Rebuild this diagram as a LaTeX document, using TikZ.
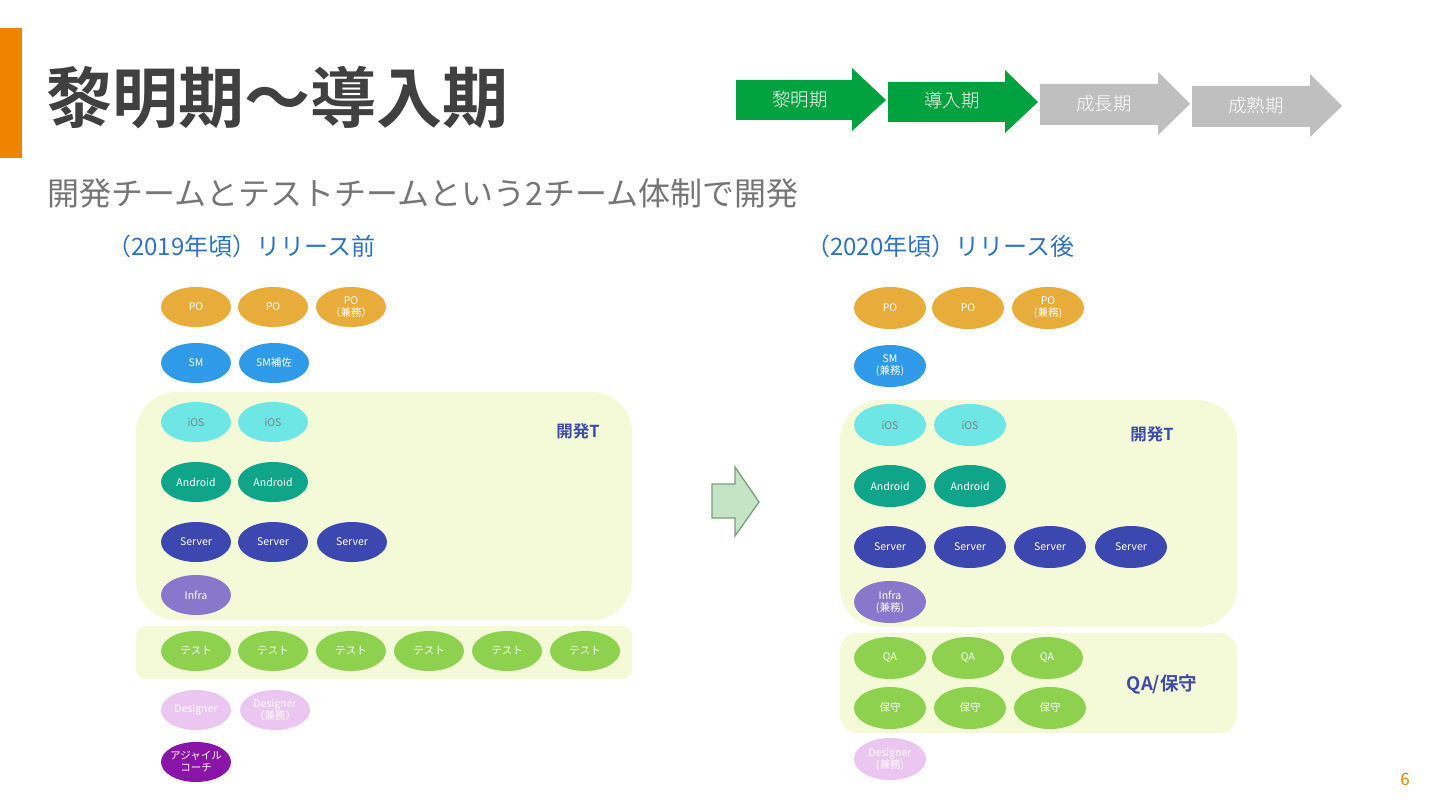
\documentclass[tikz,border=0pt]{standalone}
\usepackage{fontspec}
\setmainfont{Noto Sans CJK JP}
\newfontfamily\jpb{Noto Sans CJK JP Bold}
\newfontfamily\jpl{Noto Sans CJK JP Light}
\usetikzlibrary{shapes.geometric}
\definecolor{orangebar}{HTML}{F08300}
\definecolor{titlegray}{HTML}{404040}
\definecolor{subgray}{HTML}{767676}
\definecolor{headblue}{HTML}{2F73C0}
\definecolor{phgreen}{HTML}{00A23F}
\definecolor{phgray}{HTML}{BFBFBF}
\definecolor{boxbg}{HTML}{F4F9D8}
\definecolor{cpo}{HTML}{E8AC3A}
\definecolor{csm}{HTML}{2E9AE8}
\definecolor{cios}{HTML}{6EE6E6}
\definecolor{cand}{HTML}{0FA58A}
\definecolor{cser}{HTML}{3D47B0}
\definecolor{cinf}{HTML}{8878CC}
\definecolor{ctest}{HTML}{8DD14F}
\definecolor{cdes}{HTML}{EBC6F0}
\definecolor{cac}{HTML}{8B14A8}
\definecolor{labblue}{HTML}{3E4BA8}
\definecolor{arrfill}{HTML}{C5E3C5}
\definecolor{arrdraw}{HTML}{7E9E7E}
\begin{document}
\begin{tikzpicture}[x=1pt,y=-1pt,
  mem/.style={ellipse,minimum width=70pt,minimum height=40pt,inner sep=0pt,text=white,
    font=\fontsize{10.5}{12}\selectfont,align=center},
  memr/.style={mem,minimum width=72pt,minimum height=42pt},
  po/.style={fill=cpo},
  sm/.style={fill=csm},
  ios/.style={fill=cios,text=gray},
  and/.style={fill=cand},
  ser/.style={fill=cser},
  inf/.style={fill=cinf},
  tst/.style={fill=ctest},
  des/.style={fill=cdes},
  ac/.style={fill=cac,inner sep=-3pt},
  teamlab/.style={text=labblue,font=\jpb\fontsize{16.5}{18}\selectfont},
  phase/.style={text=white,font=\jpl\fontsize{18.5}{20}\selectfont}
]
\useasboundingbox (0,0) rectangle (1440,810);
\fill[white] (0,0) rectangle (1440,810);
% orange bar
\fill[orangebar] (0,28) rectangle (22,158);
\node[anchor=west,text=titlegray,font=\jpb\fontsize{66}{68}\selectfont,inner sep=0pt] (title) at (46,98) {黎明期〜導入期};
% phase arrows
\fill[phgreen] (736,80) -- (852,80) -- (852,68) -- (886,100) -- (852,131) -- (852,120) -- (736,120) -- cycle;
\node[phase] (p1) at (800,99) {黎明期};
\fill[phgreen] (888,82) -- (1005,82) -- (1005,70) -- (1038,102) -- (1005,133) -- (1005,122) -- (888,122) -- cycle;
\node[phase] (p2) at (952,101) {導入期};
\fill[phgray] (1040,84) -- (1158,84) -- (1158,72) -- (1190,104) -- (1158,135) -- (1158,125) -- (1040,125) -- cycle;
\node[phase] (p3) at (1104,104) {成長期};
\fill[phgray] (1192,86) -- (1310,86) -- (1310,74) -- (1342,106) -- (1310,137) -- (1310,127) -- (1192,127) -- cycle;
\node[phase] (p4) at (1256,106) {成熟期};
% subtitle
\node[anchor=west,text=subgray,font=\fontsize{32}{34}\selectfont,inner sep=0pt] (sub) at (47,193) {開発チームとテストチームという2チーム体制で開発};
\node[anchor=west,text=headblue,font=\fontsize{24}{26}\selectfont,inner sep=0pt] (h1) at (107,246) {（2019年頃）リリース前};
\node[anchor=west,text=headblue,font=\fontsize{24}{26}\selectfont,inner sep=0pt] (h2) at (806,246) {（2020年頃）リリース後};
% ===== left =====
\path[fill=boxbg,rounded corners=40pt] (136,392) rectangle (632,620);
\path[fill=boxbg,rounded corners=10pt] (136,626) rectangle (632,679);
\node[mem,po] (lpo1) at (196,307) {PO};
\node[mem,po] (lpo2) at (273,307) {PO};
\node[mem,po] (lpo3) at (351,307) {PO\\（兼務）};
\node[mem,sm] (lsm1) at (196,363) {SM};
\node[mem,sm] (lsm2) at (274,363) {SM補佐};
\node[mem,ios] (lios1) at (196,422) {iOS};
\node[mem,ios] (lios2) at (273,422) {iOS};
\node[mem,and] (land1) at (196,482) {Android};
\node[mem,and] (land2) at (273,482) {Android};
\node[mem,ser] (lser1) at (196,542) {Server};
\node[mem,ser] (lser2) at (273,542) {Server};
\node[mem,ser] (lser3) at (352,542) {Server};
\node[mem,inf] (linf) at (196,595) {Infra};
\node[teamlab] (ldev) at (578,431) {開発T};
\foreach \i/\x in {1/196,2/273,3/351,4/429,5/507,6/585}
  \node[mem,tst] (ltst\i) at (\x,651) {テスト};
\node[mem,des] (ldes1) at (196,710) {Designer};
\node[mem,des] (ldes2) at (275,710) {Designer\\（兼務）};
\node[mem,ac] (lac) at (196,762) {アジャイル\\コーチ};
% middle arrow
\path[fill=arrfill,draw=arrdraw,line width=1.3pt,line join=miter]
  (712,484) -- (735,484) -- (735,467) -- (759,502) -- (735,536) -- (735,518) -- (712,518) -- cycle;
% ===== right =====
\path[fill=boxbg,rounded corners=40pt] (840,400) rectangle (1237,627);
\path[fill=boxbg,rounded corners=18pt] (840,633) rectangle (1237,733);
\node[memr,po] (rpo1) at (890,308) {PO};
\node[memr,po] (rpo2) at (968,308) {PO};
\node[memr,po] (rpo3) at (1048,308) {PO\\(兼務)};
\node[memr,sm] (rsm) at (890,366) {SM\\(兼務)};
\node[memr,ios] (rios1) at (890,425) {iOS};
\node[memr,ios] (rios2) at (970,425) {iOS};
\node[memr,and] (rand1) at (890,486) {Android};
\node[memr,and] (rand2) at (970,486) {Android};
\node[memr,ser] (rser1) at (890,547) {Server};
\node[memr,ser] (rser2) at (970,547) {Server};
\node[memr,ser] (rser3) at (1050,547) {Server};
\node[memr,ser] (rser4) at (1131,547) {Server};
\node[memr,inf] (rinf) at (890,602) {Infra\\(兼務)};
\node[teamlab] (rdev) at (1152,434) {開発T};
\node[memr,tst] (rqa1) at (890,658) {QA};
\node[memr,tst] (rqa2) at (968,658) {QA};
\node[memr,tst] (rqa3) at (1047,658) {QA};
\node[memr,tst] (rhs1) at (890,708) {保守};
\node[memr,tst] (rhs2) at (970,708) {保守};
\node[memr,tst] (rhs3) at (1050,708) {保守};
\node[teamlab,font=\jpb\fontsize{18.5}{20}\selectfont] (rqa) at (1162,684) {QA/保守};
\node[memr,des] (rdes) at (890,759) {Designer\\(兼務)};
% page number
\node[text=orangebar,font=\fontsize{17}{18}\selectfont] (pg) at (1405,779) {6};
\end{tikzpicture}
\end{document}
